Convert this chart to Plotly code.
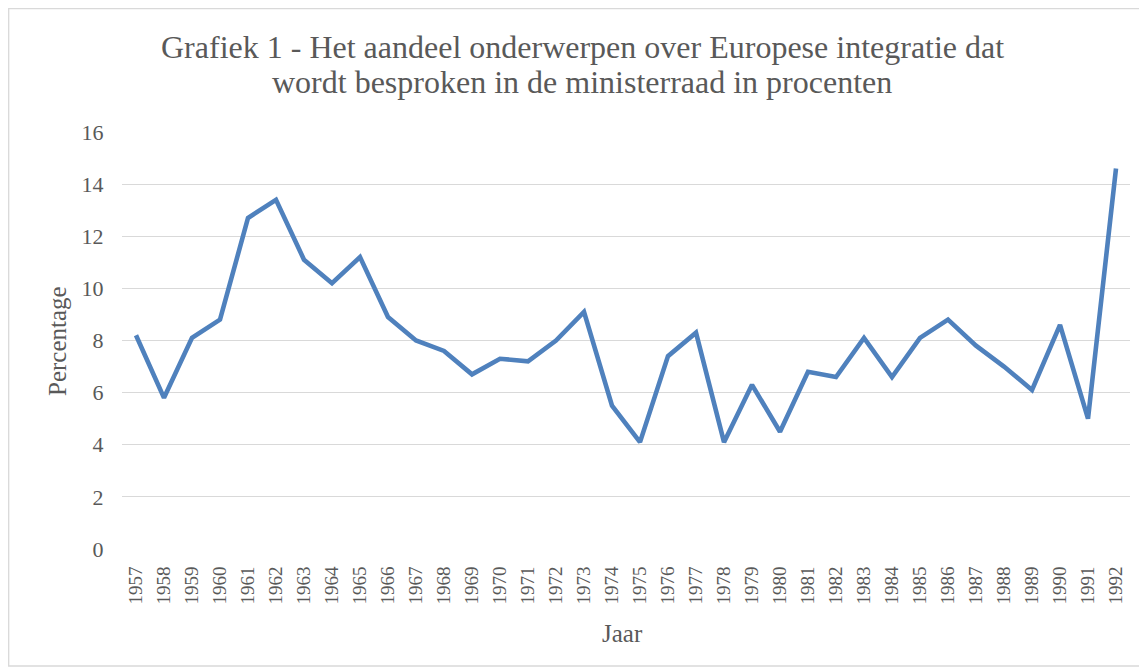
import plotly.graph_objects as go

years = [str(y) for y in range(1957, 1993)]
percentages = [8.2, 5.8, 8.1, 8.8, 12.7, 13.4, 11.1, 10.2, 11.2, 8.9, 8.0, 7.6, 6.7, 7.3, 7.2, 8.0,
               9.1, 5.5, 4.1, 7.4, 8.3, 4.1, 6.3, 4.5, 6.8, 6.6, 8.1, 6.6, 8.1, 8.8, 7.8, 7.0,
               6.1, 8.6, 5.0, 14.6]
y_ticks = [0, 2, 4, 6, 8, 10, 12, 14, 16]

title_lines = ["Grafiek 1 - Het aandeel onderwerpen over Europese integratie dat",
               "wordt besproken in de ministerraad in procenten"]
x_title = "Jaar"
y_title = "Percentage"

font_family = "'Liberation Serif', 'Times New Roman', 'DejaVu Serif', serif"
grey = "#595959"

fig = go.Figure()
fig.add_trace(go.Scatter(
    x=years, y=percentages, mode="lines",
    line=dict(color="#4f81bd", width=4.6, shape="linear"),
    showlegend=False, hoverinfo="x+y",
))

W, H = 1139, 661
L, R, T, B = 114, 17, 124, 120
pw, ph = W - L - R, H - T - B

def px_x(px):
    return (px - L) / pw

def px_y(py):
    return (T + ph - py) / ph

annotations = [
    dict(text=title_lines[0], x=px_x(574.5), y=px_y(39), xref="paper", yref="paper",
         xanchor="center", yanchor="middle", showarrow=False,
         font=dict(size=32, color=grey, family=font_family)),
    dict(text=title_lines[1], x=px_x(573.5), y=px_y(74), xref="paper", yref="paper",
         xanchor="center", yanchor="middle", showarrow=False,
         font=dict(size=32, color=grey, family=font_family)),
    dict(text=y_title, x=px_x(49), y=px_y(333), xref="paper", yref="paper", textangle=-90,
         xanchor="center", yanchor="middle", showarrow=False,
         font=dict(size=25, color=grey, family=font_family)),
    dict(text=x_title, x=px_x(614), y=px_y(625), xref="paper", yref="paper",
         xanchor="center", yanchor="middle", showarrow=False,
         font=dict(size=25, color=grey, family=font_family)),
]

fig.update_layout(
    width=W, height=H,
    margin=dict(l=L, r=R, t=T, b=B, pad=0),
    paper_bgcolor="white", plot_bgcolor="white",
    font=dict(family=font_family, color=grey),
    xaxis=dict(
        type="category", range=[-0.5, len(years) - 0.5],
        tickangle=-90, tickfont=dict(size=19, color=grey, family=font_family),
        showgrid=False, showline=False, zeroline=False,
        ticks="outside", ticklen=9, tickcolor="rgba(0,0,0,0)",
    ),
    yaxis=dict(
        range=[0, 16], tickvals=y_ticks, ticktext=[str(v) for v in y_ticks],
        tickfont=dict(size=22, color=grey, family=font_family),
        showgrid=True, gridcolor="#d9d9d9", gridwidth=1.3,
        zeroline=False, showline=False, ticks="outside", ticklen=13, tickcolor="rgba(0,0,0,0)",
    ),
    annotations=annotations,
    shapes=[dict(
        type="rect", xref="paper", yref="paper",
        x0=px_x(0.7), x1=px_x(1135),
        y0=px_y(658), y1=px_y(0.7),
        line=dict(color="#d9d9d9", width=1.3), fillcolor="rgba(0,0,0,0)", layer="below",
    )],
)

fig.write_html("out.html")
